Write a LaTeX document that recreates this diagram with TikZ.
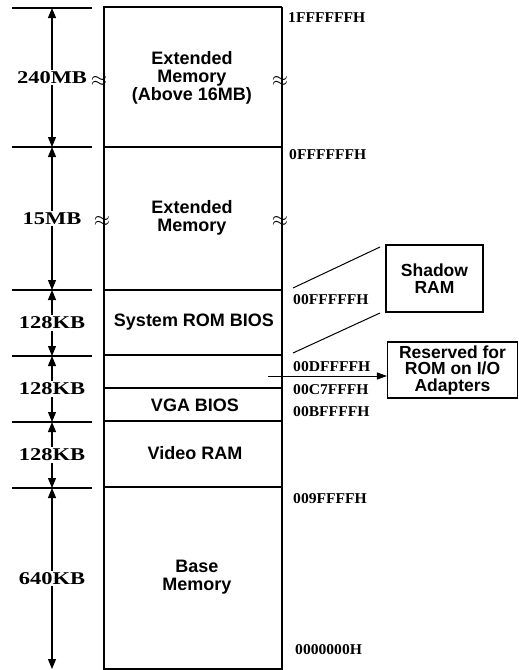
\documentclass[tikz,border=0pt]{standalone}
\usepackage{fontspec}
\setmainfont{Liberation Serif}
\newfontfamily\dimfont[FakeStretch=1.25]{Liberation Serif}
\newfontfamily\addrfont[FakeStretch=1.04]{Liberation Serif}
\newfontfamily\boxfont{Liberation Sans}
\usetikzlibrary{arrows.meta}
\begin{document}
\begin{tikzpicture}[x=1pt,y=-1pt,
  edge/.style={line width=1.5pt},
  sep/.style={line width=1.1pt},
  tick/.style={line width=1.1pt},
  dim/.style={line width=1.1pt,{Triangle[length=10pt,width=8pt]}-{Triangle[length=10pt,width=8pt]}},
  dimlab/.style={fill=white,inner sep=1.5pt,font=\dimfont\bfseries\fontsize{18}{20}\selectfont},
  boxtxt/.style={align=center,inner sep=0pt,font=\boxfont\bfseries\fontsize{18}{18}\selectfont},
  addr/.style={anchor=west,inner sep=0pt,font=\addrfont\bfseries\fontsize{15}{16}\selectfont},
  brk/.style={inner sep=0pt,font=\fontsize{22}{22}\selectfont},
  callout/.style={draw,line width=1.1pt,align=center,inner sep=2pt,font=\boxfont\bfseries\fontsize{17.5}{16.5}\selectfont},
  lead/.style={line width=1pt}]
\useasboundingbox (0,0) rectangle (519,670);
% main box corners
\coordinate (TL) at (104,7);
\coordinate (TR) at (282,7);
\coordinate (BL) at (104,669);
\coordinate (BR) at (282,669);
\draw[edge] (TR) -- (TL) -- (BL) -- (BR) -- (TR);
% separators
\foreach \n/\y in {a/147,b/290,c/355,d/388,e/421,f/487}{
  \coordinate (\n L) at (104,\y);
  \coordinate (\n R) at (282,\y);
  \draw[sep] (\n L) -- (\n R);
}
% texts inside
\node[boxtxt] (ext16) at (192,78) {Extended\\Memory\\(Above 16MB)};
\node[boxtxt] (ext) at (192,218) {Extended\\Memory};
\node[boxtxt] (sysrom) at (194,322) {System ROM BIOS};
\node[boxtxt] (vga) at (195,405) {VGA BIOS};
\node[boxtxt] (vram) at (195,453) {Video RAM};
\node[boxtxt] (base) at (197,577) {Base\\Memory};
% break marks
\node[brk] (b1l) at (99,81) {$\approx$};
\node[brk] (b1r) at (280,81) {$\approx$};
\node[brk] (b2l) at (102,221) {$\approx$};
\node[brk] (b2r) at (280,221) {$\approx$};
% dimension ticks
\foreach \n/\y in {0/8,1/147,2/290,3/356,4/422,5/488}{
  \coordinate (k\n a) at (12,\y);
  \coordinate (k\n b) at (92,\y);
  \coordinate (k\n) at (52,\y);
  \draw[tick] (k\n a) -- (k\n b);
}
\coordinate (k6) at (52,669);
\draw[dim] (k0) -- node[dimlab] (l240) {240MB} (k1);
\draw[dim] (k1) -- node[dimlab] (l15) {15MB} (k2);
\draw[dim] (k2) -- node[dimlab] (l128a) {128KB} (k3);
\draw[dim] (k3) -- node[dimlab] (l128b) {128KB} (k4);
\draw[dim] (k4) -- node[dimlab] (l128c) {128KB} (k5);
\draw[dim] (k5) -- node[dimlab] (l640) {640KB} (k6);
% addresses
\node[addr] (a1) at (288,18) {1FFFFFFH};
\node[addr] (a2) at (289,155) {0FFFFFFH};
\node[addr] (a3) at (293,300) {00FFFFFH};
\node[addr] (a4) at (293,367) {00DFFFFH};
\node[addr] (a5) at (293,390) {00C7FFFH};
\node[addr] (a6) at (293,412) {00BFFFFH};
\node[addr] (a7) at (293,499) {009FFFFH};
\node[addr] (a8) at (295,650) {0000000H};
% callouts
\node[callout,minimum width=97pt,minimum height=67pt] (shadow) at (434.5,278.5) {Shadow\\RAM};
\node[callout,minimum width=130pt,minimum height=56pt] (resv) at (452.5,370) {Reserved for\\ROM on I/O\\Adapters};
\coordinate (s1) at (293,288);
\coordinate (s2) at (293,353);
\coordinate (s1e) at (380,247);
\coordinate (s2e) at (380,313);
\draw[lead] (s1) -- (s1e);
\draw[lead] (s2) -- (s2e);
\coordinate (ar) at (268,376);
\draw[lead,-{Triangle[length=10pt,width=7pt]}] (ar) -- (resv.west |- ar);
\end{tikzpicture}
\end{document}
